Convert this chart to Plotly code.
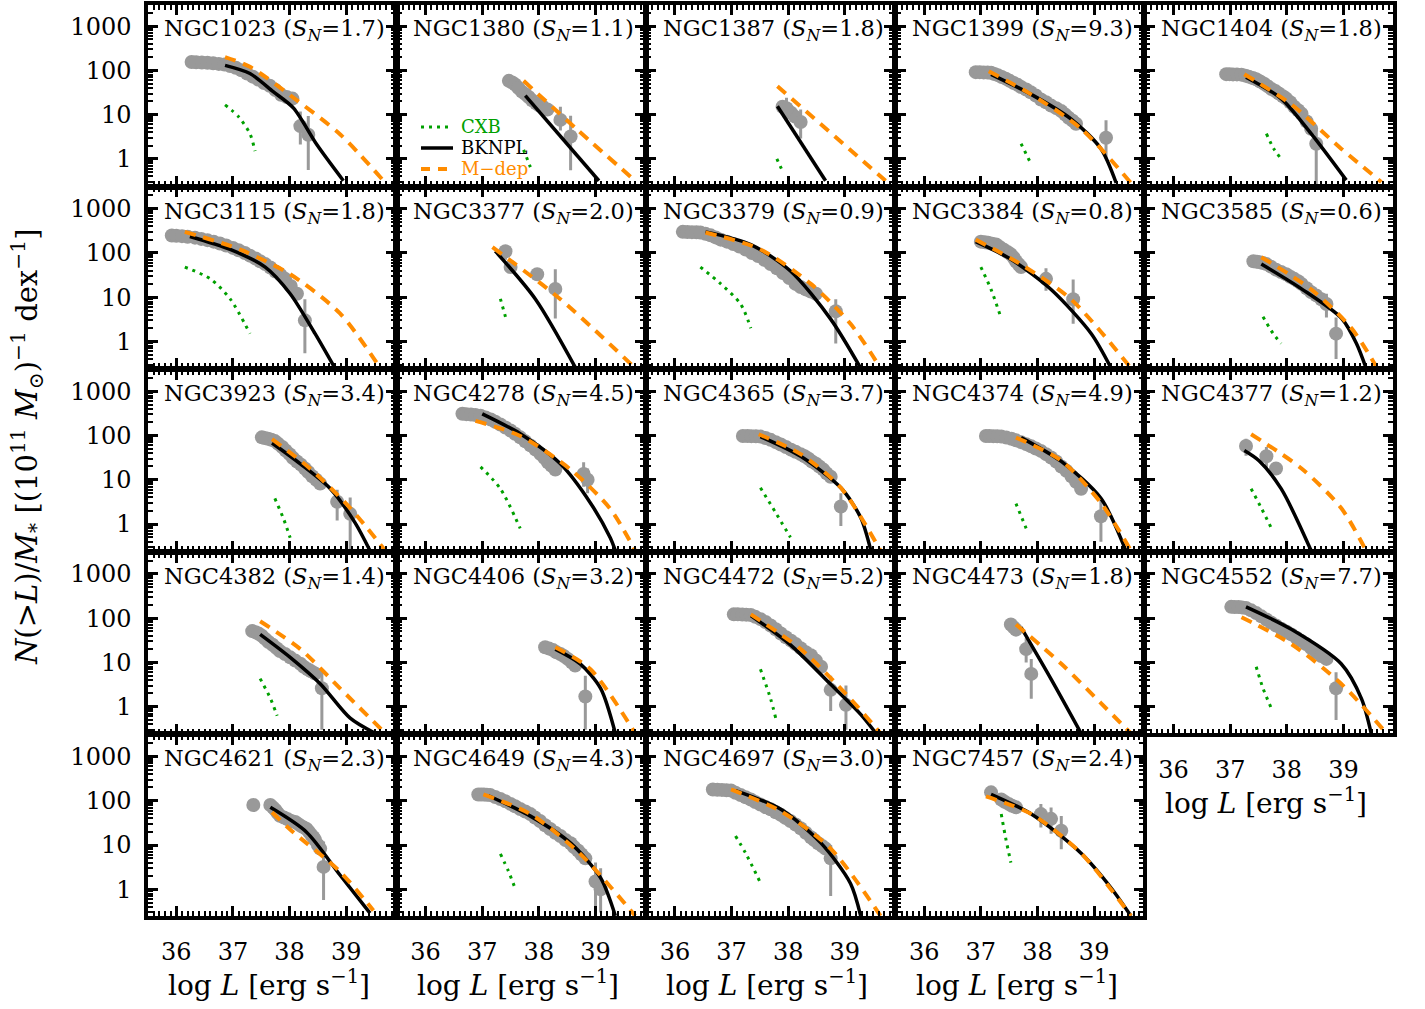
import numpy as np
import plotly.graph_objects as go
from plotly.subplots import make_subplots

# ---------------------------------------------------------------- data
GALAXIES = ["NGC1023", "NGC1380", "NGC1387", "NGC1399", "NGC1404",
            "NGC3115", "NGC3377", "NGC3379", "NGC3384", "NGC3585",
            "NGC3923", "NGC4278", "NGC4365", "NGC4374", "NGC4377",
            "NGC4382", "NGC4406", "NGC4472", "NGC4473", "NGC4552",
            "NGC4621", "NGC4649", "NGC4697", "NGC7457"]
S_N = [1.7, 1.1, 1.8, 9.3, 1.8,
       1.8, 2.0, 0.9, 0.8, 0.6,
       3.4, 4.5, 3.7, 4.9, 1.2,
       1.4, 3.2, 5.2, 1.8, 7.7,
       2.3, 4.3, 3.0, 2.4]

# observed cumulative XLF (points without visible error bars)
PTS_X = [
    [36.27, 36.35, 36.45, 36.55, 36.65, 36.75, 36.85, 36.95, 37.05, 37.15, 37.25, 37.35, 37.45, 37.55, 37.65, 37.75, 37.85, 37.95, 38.05],
    [37.47, 37.53, 37.58, 37.64, 37.7, 37.76, 37.82, 37.88, 37.95, 38.01, 38.07, 38.15],
    [37.9, 37.97, 38.05, 38.12],
    [36.91, 36.98, 37.05, 37.12, 37.18, 37.24, 37.3, 37.37, 37.44, 37.51, 37.58, 37.65, 37.71, 37.8, 37.88, 37.97, 38.06, 38.15, 38.24, 38.33, 38.42, 38.49, 38.55, 38.62, 38.68],
    [36.93, 36.99, 37.05, 37.12, 37.2, 37.27, 37.33, 37.4, 37.46, 37.53, 37.6, 37.66, 37.73, 37.8, 37.86, 37.93, 37.99, 38.06, 38.13, 38.2, 38.26, 38.35, 38.43],
    [35.92, 36.0, 36.1, 36.2, 36.33, 36.44, 36.55, 36.66, 36.77, 36.88, 37.0, 37.1, 37.21, 37.3, 37.4, 37.48, 37.57, 37.66, 37.75, 37.84, 37.92, 38.02, 38.13],
    [37.5, 37.97],
    [36.14, 36.22, 36.3, 36.38, 36.45, 36.54, 36.63, 36.72, 36.81, 36.92, 37.03, 37.14, 37.25, 37.36, 37.47, 37.58, 37.69, 37.8, 37.91, 38.02, 38.13, 38.22, 38.31, 38.4, 38.49],
    [37.0, 37.07, 37.13, 37.2, 37.27, 37.33, 37.4, 37.47, 37.53, 37.58, 37.62, 37.67, 37.71],
    [37.41, 37.47, 37.52, 37.58, 37.64, 37.72, 37.81, 37.9, 37.99, 38.06, 38.13, 38.2, 38.26, 38.35, 38.43, 38.52, 38.61],
    [37.51, 37.56, 37.62, 37.68, 37.74, 37.8, 37.87, 37.93, 38.0, 38.06, 38.13, 38.2, 38.27, 38.33, 38.4, 38.47, 38.54],
    [36.65, 36.72, 36.8, 36.88, 36.97, 37.06, 37.15, 37.23, 37.32, 37.41, 37.5, 37.58, 37.67, 37.76, 37.85, 37.94, 38.03, 38.1, 38.16, 38.22, 38.29],
    [37.2, 37.28, 37.35, 37.43, 37.51, 37.6, 37.69, 37.78, 37.87, 37.96, 38.05, 38.13, 38.22, 38.29, 38.36, 38.42, 38.49, 38.55, 38.62, 38.68, 38.75],
    [37.09, 37.15, 37.22, 37.29, 37.36, 37.45, 37.54, 37.62, 37.71, 37.8, 37.89, 37.97, 38.06, 38.15, 38.24, 38.33, 38.42, 38.51, 38.6, 38.68, 38.77],
    [37.81],
    [37.34, 37.4, 37.45, 37.51, 37.57, 37.63, 37.7, 37.77, 37.83, 37.92, 38.01, 38.1, 38.19, 38.25, 38.32, 38.38, 38.45],
    [38.11, 38.18, 38.25, 38.31, 38.38, 38.44, 38.51, 38.58, 38.64],
    [37.04, 37.11, 37.19, 37.26, 37.34, 37.42, 37.51, 37.6, 37.69, 37.78, 37.87, 37.96, 38.05, 38.13, 38.22, 38.31, 38.4, 38.49, 38.58],
    [37.53, 37.58, 37.62],
    [37.02, 37.08, 37.15, 37.21, 37.28, 37.37, 37.46, 37.55, 37.64, 37.72, 37.81, 37.9, 37.99, 38.08, 38.17, 38.25, 38.34, 38.43, 38.52, 38.61, 38.7],
    [37.36, 37.66, 37.71, 37.75, 37.79, 37.83, 37.9, 37.97, 38.03, 38.1, 38.15, 38.2, 38.25, 38.3, 38.34, 38.38, 38.42, 38.45, 38.5, 38.54],
    [36.93, 36.98, 37.03, 37.08, 37.14, 37.23, 37.32, 37.41, 37.5, 37.58, 37.67, 37.76, 37.85, 37.93, 38.02, 38.11, 38.2, 38.29, 38.38, 38.47, 38.56, 38.62, 38.69, 38.75, 38.82],
    [36.67, 36.75, 36.83, 36.91, 36.99, 37.07, 37.16, 37.25, 37.34, 37.42, 37.51, 37.6, 37.69, 37.78, 37.87, 37.95, 38.04, 38.13, 38.22, 38.31, 38.4, 38.46, 38.53, 38.6, 38.66],
    [37.36, 37.42, 37.49, 37.55, 37.62],
]
PTS_Y = [
    [155, 152, 150, 148, 145, 140, 135, 125, 115, 100, 85, 72, 62, 52, 45, 36, 28, 25, 23],
    [58, 53, 48, 40, 33, 29, 25, 21, 18, 16, 15, 13],
    [15, 14, 11, 9],
    [91, 91, 90, 89, 88, 83, 78, 71, 65, 58, 52, 47, 42, 37, 32, 27, 22, 19, 16, 14, 12, 10, 8.5, 7.3, 6.2],
    [82, 82, 81, 81, 80, 76, 72, 67, 63, 56, 50, 44, 38, 34, 30, 26, 23, 19, 15, 12.5, 10.5, 7, 4.8],
    [248, 245, 240, 232, 222, 208, 195, 180, 163, 147, 130, 115, 100, 87, 75, 65, 56, 47, 38, 32, 26, 18, 12],
    [48, 33],
    [300, 298, 295, 293, 290, 270, 250, 225, 200, 180, 160, 140, 120, 100, 85, 70, 56, 45, 35, 27, 20, 17, 15, 13.5, 12],
    [180, 175, 170, 162, 155, 137, 120, 105, 93, 78, 65, 55, 48],
    [65, 63, 62, 59, 56, 49, 42, 37, 33, 29, 26, 23, 20, 16, 13, 11, 9],
    [91, 88, 85, 80, 75, 65, 55, 46, 38, 31, 26, 22, 18, 15, 12, 10, 8.2],
    [310, 305, 300, 290, 280, 255, 230, 205, 178, 152, 130, 110, 91, 74, 60, 48, 38, 31, 25, 21, 17],
    [98, 98, 97, 96, 95, 88, 80, 71, 63, 55, 48, 43, 38, 34, 30, 26, 23, 20, 17, 14, 11.7],
    [98, 98, 97, 96, 95, 90, 85, 78, 71, 64, 57, 51, 45, 38, 32, 26, 20, 16, 12, 9, 6.3],
    [18],
    [51, 48, 45, 40, 34, 29, 25, 21, 18, 15.5, 13, 11, 9.3, 8, 7, 6.3, 5.6],
    [22, 20.5, 19, 17, 15.5, 14, 12, 10, 8.5],
    [122, 122, 121, 120, 118, 107, 95, 82, 68, 56, 45, 37, 31, 26, 21, 17, 14.5, 11, 8],
    [72, 62, 55],
    [180, 179, 178, 175, 170, 150, 130, 110, 93, 80, 68, 58, 50, 43, 36, 31, 26, 21, 17, 14, 12],
    [80, 80, 70, 62, 53, 46, 42, 38, 35, 33, 30, 27, 25, 23, 20, 17, 15, 13, 10, 8.3],
    [139, 139, 138, 137, 135, 122, 110, 97, 85, 75, 65, 57, 50, 42, 35, 28, 23, 19, 16, 13, 11, 9, 7.5, 6.2, 5],
    [180, 178, 176, 173, 170, 152, 135, 120, 107, 94, 82, 72, 64, 55, 48, 41, 35, 29, 24, 19, 15, 13, 11, 9.5, 8.3],
    [107, 95, 85, 77, 71],
]

# points with visible error bars: position, upper and lower bound
EB_X = [[38.19, 38.33], [38.38, 38.56], [37.97, 38.22], [39.21], [38.52],
        [38.27], [37.41, 38.29], [38.84], [38.15, 38.63], [38.7, 38.87],
        [38.84, 39.07], [38.79, 38.86], [38.93], [39.12], [37.28, 37.64],
        [38.57], [38.82], [38.75, 39.02], [37.8, 37.89], [38.87],
        [38.6], [39.0, 39.09], [38.75], [37.18, 38.06, 38.24, 38.42]]
EB_Y = [[5.5, 3.5], [7.6, 3.2], [13, 6.8], [3.0], [2.2],
        [3.0], [109, 15.4], [4.8], [26, 9], [7, 1.5],
        [3.2, 1.7], [13.5, 10], [2.5], [1.5], [58, 34],
        [2.6], [1.7], [2.4, 1.1], [20, 5.5], [2.6],
        [3.2], [1.5, 1.0], [5], [155, 50, 39, 21]]
EB_HI = [[11.7, 9.3], [15, 9.4], [24, 13], [7.5], [4.8],
         [9], [150, 43], [9], [45, 25], [12, 3.5],
         [6, 4], [25, 18], [5], [3.5], [85, 55],
         [7], [5], [5, 3], [35, 12], [6],
         [12], [4, 3], [10], [200, 85, 70, 45]]
EB_LO = [[2.1, 0.56], [4.4, 0.55], [7.3, 2.9], [1.0], [0.25],
         [0.54], [70, 3.3], [0.9], [14, 2.5], [3.5, 0.4],
         [1.2, 0.25], [7, 5], [0.9], [0.4], [35, 18],
         [0.3], [0.3], [0.8, 0.3], [10, 1.5], [0.5],
         [0.57], [0.4, 0.3], [0.7], [110, 25, 18, 8]]

# broken power-law fit (BKNPL)
BK_X = [[36.86, 37.3, 37.71, 38.07, 38.48, 38.95], [37.76, 39.06], [37.81, 38.66],
        [37.18, 37.88, 38.59, 39.12, 39.39], [37.28, 37.9, 38.43, 39.05],
        [36.24, 36.95, 37.57, 38.01, 38.45, 38.8], [37.23, 37.94, 38.65],
        [36.54, 37.34, 38.04, 38.75, 39.28], [36.91, 37.53, 38.24, 38.95, 39.3],
        [37.55, 38.26, 38.97, 39.23, 39.4], [37.69, 38.19, 38.72, 39.16, 39.42],
        [37.0, 37.67, 38.38, 38.91, 39.26, 39.35], [37.51, 38.22, 38.93, 39.28, 39.46],
        [37.71, 38.42, 39.12, 39.56], [37.25, 37.51, 37.9, 38.43],
        [37.48, 38.01, 38.54, 39.07, 39.51], [38.29, 38.73, 39.09, 39.35],
        [37.34, 38.04, 38.75, 39.28, 39.55], [37.71, 38.24, 38.77],
        [37.28, 38.08, 38.96, 39.32, 39.49], [37.66, 38.3, 38.89, 39.42],
        [37.11, 37.85, 38.56, 39.09, 39.35], [37.07, 37.87, 38.58, 39.1, 39.28],
        [37.18, 37.89, 38.77, 39.3, 39.65]]
BK_Y = [[130, 85, 33, 14, 2.1, 0.32], [27, 0.32], [15.4, 0.32],
        [81, 29, 8, 1.7, 0.285], [70, 23, 3.7, 0.33],
        [235, 120, 48, 12, 1.5, 0.25], [110, 9, 0.25],
        [300, 155, 39, 3.2, 0.25], [180, 72, 15, 1.5, 0.25],
        [56, 15.4, 3.3, 0.9, 0.25], [68, 23, 6.3, 1.05, 0.25],
        [310, 110, 23, 3, 0.49, 0.25], [95, 34, 6.6, 1.4, 0.25],
        [90, 26, 3.8, 0.25], [46, 27, 6.3, 0.25],
        [43, 13, 3.3, 0.55, 0.25], [20, 9.3, 2.6, 0.25],
        [115, 25, 3.2, 0.67, 0.25], [62, 4.2, 0.25],
        [180, 56, 9.3, 1.5, 0.25], [71, 19.5, 2.1, 0.29],
        [130, 45, 11, 1.8, 0.25], [170, 64, 11, 1.35, 0.25],
        [140, 50, 6.5, 1.07, 0.25]]

# mass-dependent model (M-dep)
MD_X = [[36.86, 37.3, 38.13, 38.9, 39.63], [37.73, 38.7, 39.7], [37.81, 39.72],
        [37.14, 37.88, 38.77, 39.65], [37.25, 38.08, 38.96, 39.67],
        [36.15, 37.12, 38.01, 38.89, 39.6], [37.18, 38.38, 39.7],
        [36.54, 37.51, 38.4, 39.1, 39.63], [36.91, 37.71, 38.59, 39.65],
        [37.55, 38.43, 39.14, 39.58], [37.69, 38.36, 39.07, 39.69],
        [36.88, 37.67, 38.56, 39.26, 39.7], [37.48, 38.22, 38.93, 39.63],
        [37.62, 38.42, 39.12, 39.65], [37.37, 38.26, 38.96, 39.4],
        [37.48, 38.19, 38.89, 39.69], [38.29, 38.91, 39.7],
        [37.34, 38.22, 39.1, 39.63], [37.62, 38.42, 39.12, 39.65],
        [37.2, 38.08, 38.96, 39.76], [37.69, 38.0, 38.89, 39.48],
        [37.02, 37.85, 38.73, 39.7], [36.99, 37.87, 38.75, 39.63],
        [37.09, 37.89, 38.77, 39.65]]
MD_Y = [[200, 120, 21, 3.5, 0.35], [58, 4.3, 0.32], [44, 0.32],
        [95, 29, 4.8, 0.285], [82, 17, 1.7, 0.3],
        [300, 120, 33, 4.3, 0.25], [135, 9, 0.25],
        [290, 120, 20, 2.5, 0.25], [200, 55, 9, 0.25],
        [80, 15, 2, 0.27], [83, 18, 2.3, 0.25],
        [215, 98, 17, 2.2, 0.25], [107, 38, 6.6, 0.25],
        [90, 27, 3, 0.25], [107, 18, 2.3, 0.25],
        [85, 20, 2.6, 0.25], [22, 7, 0.25],
        [122, 20, 1.5, 0.25], [72, 9.3, 1.2, 0.25],
        [105, 26, 3.3, 0.25], [55, 23, 2.5, 0.33],
        [139, 50, 6.3, 0.25], [180, 58, 8.3, 0.25],
        [125, 50, 6.5, 0.25]]

# cosmic X-ray background contribution (CXB)
CXB_X = [[36.86, 37.1, 37.3, 37.39], [37.73, 37.85], [37.8, 37.88],
         [37.71, 37.88], [37.64, 37.77, 37.9],
         [36.15, 36.6, 36.95, 37.3], [37.32, 37.41],
         [36.45, 36.81, 37.16, 37.34], [37.0, 37.18, 37.36],
         [37.58, 37.76, 37.9], [37.74, 37.89, 38.01],
         [36.97, 37.32, 37.67], [37.51, 37.78, 38.04],
         [37.62, 37.8], [37.37, 37.55, 37.73],
         [37.48, 37.66, 37.78], [],
         [37.51, 37.69, 37.78], [],
         [37.46, 37.58, 37.73], [],
         [37.32, 37.46, 37.58], [37.07, 37.25, 37.51],
         [37.36, 37.44, 37.53]]
CXB_Y = [[16.6, 8.9, 3.7, 1.5], [1.6, 0.65], [1.0, 0.6],
         [2.2, 0.8], [3.7, 1.7, 1.0],
         [48, 26, 9.2, 1.5], [9.2, 3.6],
         [48, 20, 7, 2], [48, 15, 3.3],
         [3.6, 1.5, 0.9], [3.8, 1.35, 0.49],
         [19.6, 6.3, 0.8], [6.6, 1.8, 0.5],
         [2.9, 0.8], [6.3, 2.3, 0.8],
         [4.3, 1.55, 0.62], [],
         [7, 1.5, 0.55], [],
         [8, 2.6, 0.9], [],
         [6.3, 2.6, 1.05], [16, 6.5, 1.4],
         [50, 14, 4]]

X_TICKS = [36, 37, 38, 39]
Y_TICKS = [1, 10, 100, 1000]

# ---------------------------------------------------------------- style
W, H = 1425, 1009
FONT = "DejaVu Serif"
GRAY = "#999999"
ORANGE = "#FF8C00"
GREEN = "#00A000"

XR = [35.5, 39.87]
YR = [np.log10(0.25), np.log10(3000)]

x_minor = [round(v, 1) for v in np.arange(35.5, 39.9, 0.1) if abs(v - round(v)) > 1e-6]
y_minor = [m * 10.0 ** e for e in range(-1, 4) for m in range(2, 10)
           if 0.25 <= m * 10.0 ** e <= 3000]


def box(r, c):
    left = 148 + 249.3 * c
    top = 5 + 182.6 * r
    return left, left + 247.5, top, top + 180.5


fig = make_subplots(rows=5, cols=5)

for i, name in enumerate(GALAXIES):
    r, c = divmod(i, 5)
    row, col = r + 1, c + 1
    # gray data points
    fig.add_trace(go.Scatter(
        x=PTS_X[i], y=PTS_Y[i], mode="markers",
        marker=dict(size=14, color=GRAY), showlegend=False, hoverinfo="skip"),
        row=row, col=col)
    ey = np.array(EB_Y[i], dtype=float)
    fig.add_trace(go.Scatter(
        x=EB_X[i], y=EB_Y[i], mode="markers",
        marker=dict(size=14, color=GRAY),
        error_y=dict(type="data", symmetric=False,
                     array=list(np.array(EB_HI[i]) - ey),
                     arrayminus=list(ey - np.array(EB_LO[i])),
                     color=GRAY, thickness=3, width=0),
        showlegend=False, hoverinfo="skip"),
        row=row, col=col)
    if CXB_X[i]:
        fig.add_trace(go.Scatter(
            x=CXB_X[i], y=CXB_Y[i], mode="lines",
            line=dict(color=GREEN, width=3, dash="3px,5px", shape="spline", smoothing=0.8),
            showlegend=False, hoverinfo="skip"),
            row=row, col=col)
    fig.add_trace(go.Scatter(
        x=BK_X[i], y=BK_Y[i], mode="lines",
        line=dict(color="black", width=3.5, shape="spline", smoothing=0.8),
        showlegend=False, hoverinfo="skip"),
        row=row, col=col)
    fig.add_trace(go.Scatter(
        x=MD_X[i], y=MD_Y[i], mode="lines",
        line=dict(color=ORANGE, width=4, dash="11px,8px", shape="spline", smoothing=0.8),
        showlegend=False, hoverinfo="skip"),
        row=row, col=col)

# axes
for n in range(1, 26):
    r, c = divmod(n - 1, 5)
    left, right, top, bottom = box(r, c)
    xname = "xaxis" if n == 1 else f"xaxis{n}"
    yname = "yaxis" if n == 1 else f"yaxis{n}"
    if n == 25:
        fig.layout[xname].update(visible=False, domain=[left / W, right / W])
        fig.layout[yname].update(visible=False, domain=[1 - bottom / H, 1 - top / H])
        continue
    bottom_panel = (r == 4) or (r == 3 and c == 4)
    common = dict(showline=True, linewidth=3.5, linecolor="black", mirror="ticks",
                  ticks="inside", ticklen=10, tickwidth=2.5, tickcolor="black",
                  showgrid=False, zeroline=False,
                  tickfont=dict(family=FONT, size=24, color="black"))
    fig.layout[xname].update(
        domain=[left / W, right / W], range=XR, tickvals=X_TICKS,
        ticktext=[str(v) for v in X_TICKS], showticklabels=bottom_panel,
        ticklabelstandoff=12,
        minor=dict(tickvals=x_minor, ticks="inside", ticklen=5, tickwidth=1.5,
                   tickcolor="black", showgrid=False),
        **common)
    fig.layout[yname].update(
        domain=[1 - bottom / H, 1 - top / H], type="log", range=YR,
        tickvals=Y_TICKS, ticktext=[str(v) for v in Y_TICKS],
        showticklabels=(c == 0), ticklabelstandoff=8,
        minor=dict(tickvals=y_minor, ticks="inside", ticklen=5, tickwidth=1.5,
                   tickcolor="black", showgrid=False),
        **common)

annotations = []
# panel labels
for i, name in enumerate(GALAXIES):
    r, c = divmod(i, 5)
    left, right, top, bottom = box(r, c)
    annotations.append(dict(
        x=(left + 14) / W, y=1 - (top + 25) / H, xref="paper", yref="paper",
        xanchor="left", yanchor="middle", showarrow=False,
        text=f"{name} (<i>S</i><sub><i>N</i></sub>={S_N[i]:.1f})",
        font=dict(family=FONT, size=22.5, color="black")))

# x-axis titles under the lowest panel of each column
for c in range(5):
    r = 4 if c < 4 else 3
    left, right, top, bottom = box(r, c)
    annotations.append(dict(
        x=(left + right - 6) / 2 / W, y=1 - (bottom + 68) / H, xref="paper", yref="paper",
        xanchor="center", yanchor="middle", showarrow=False,
        text="log <i>L</i> [erg s<sup>\u22121</sup>]",
        font=dict(family=FONT, size=28, color="black")))

# y-axis title
annotations.append(dict(
    x=27 / W, y=1 - 447 / H, xref="paper", yref="paper", textangle=-90,
    xanchor="center", yanchor="middle", showarrow=False,
    text="<i>N</i>(&gt;<i>L</i>)/<i>M</i><sub>*</sub> [(10<sup>11</sup> <i>M</i><sub>\u2299</sub>)<sup>\u22121</sup> dex<sup>\u22121</sup>]",
    font=dict(family=FONT, size=29, color="black")))

# legend drawn inside the NGC1380 panel
legend_rows = [("CXB", GREEN, "3px,5px", 3, 127),
               ("BKNPL", "black", "solid", 3.5, 148),
               ("M\u2212dep", ORANGE, "9px,8px", 4, 169)]
shapes = []
for label, color, dash, width, ypix in legend_rows:
    shapes.append(dict(type="line", xref="paper", yref="paper",
                       x0=421 / W, x1=453 / W, y0=1 - ypix / H, y1=1 - ypix / H,
                       line=dict(color=color, width=width, dash=dash)))
    annotations.append(dict(
        x=459 / W, y=1 - ypix / H, xref="paper", yref="paper",
        xanchor="left", yanchor="middle", showarrow=False, text=label,
        font=dict(family=FONT, size=18, color=color)))

fig.update_layout(
    width=W, height=H, margin=dict(l=0, r=0, t=0, b=0),
    paper_bgcolor="white", plot_bgcolor="white",
    showlegend=False, annotations=annotations, shapes=shapes,
    font=dict(family=FONT, color="black"))

fig.write_html("out.html")
